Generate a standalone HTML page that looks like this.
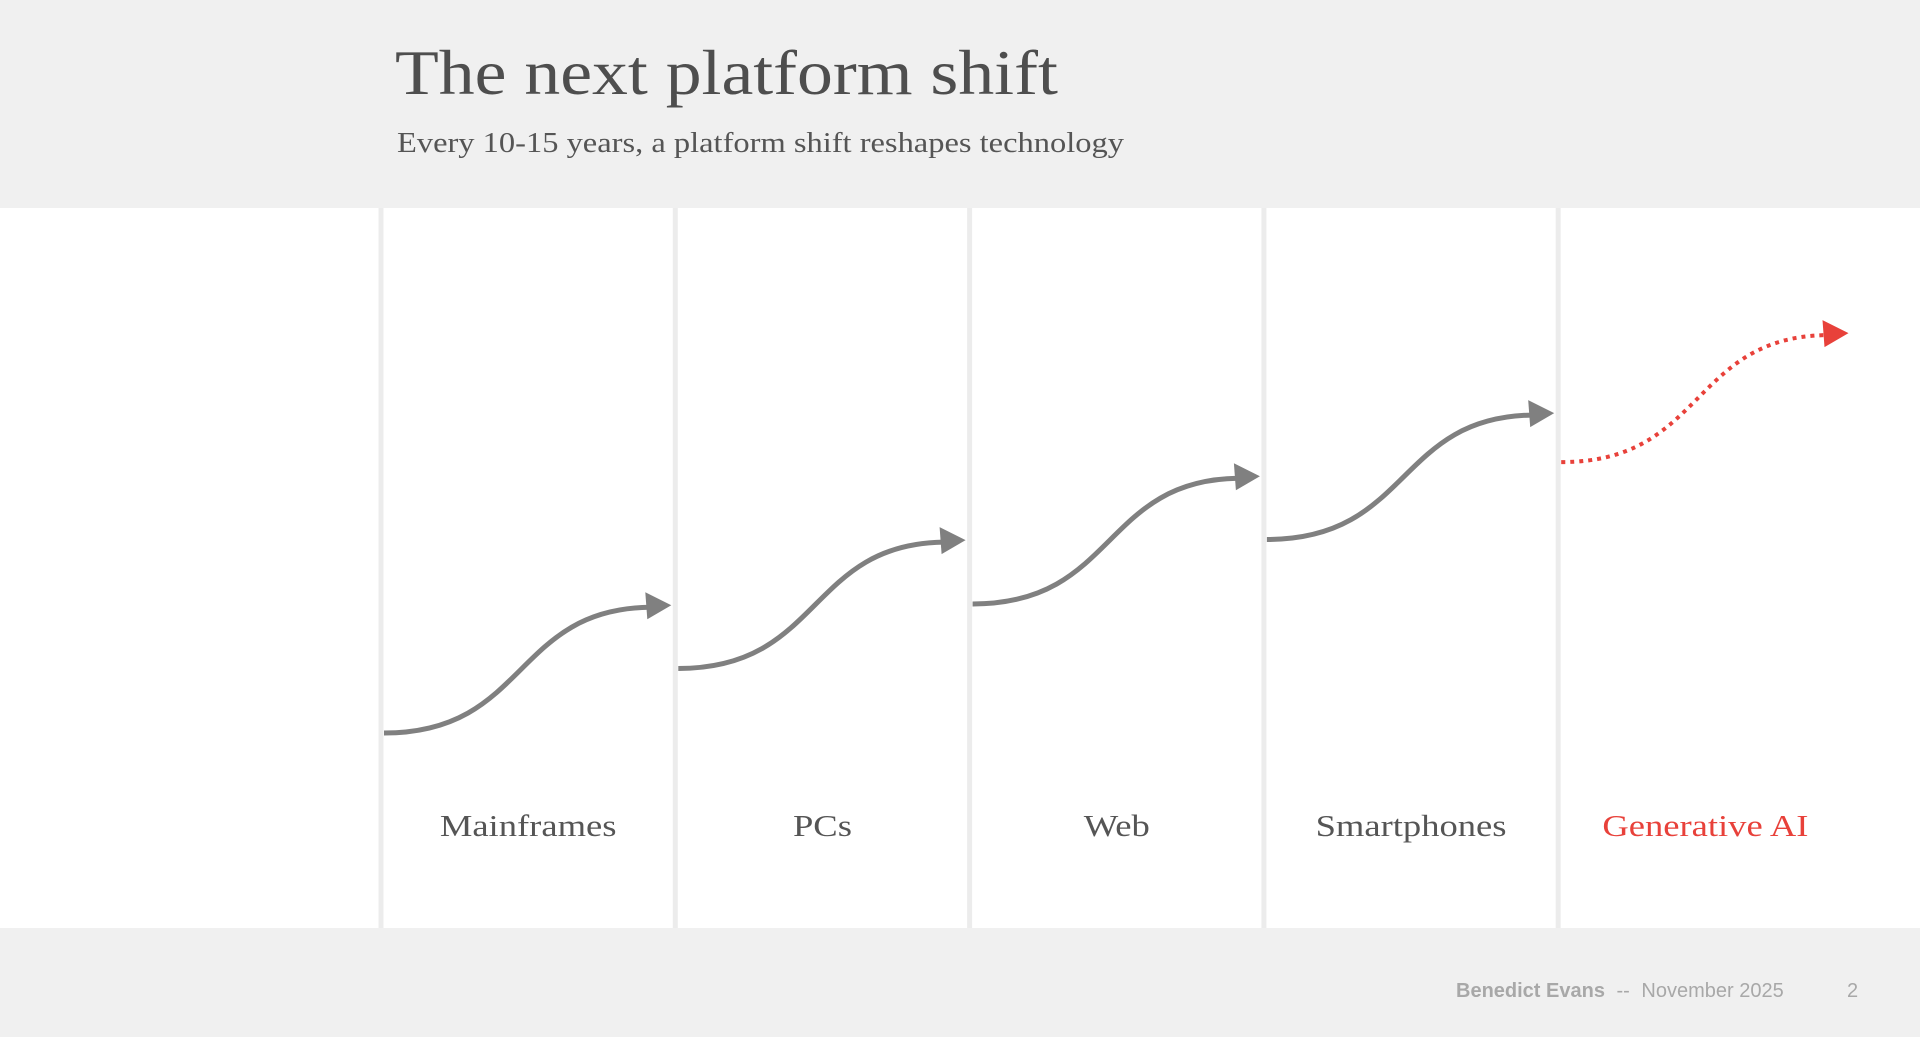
<!DOCTYPE html>
<html><head><meta charset="utf-8"><style>
html,body{margin:0;padding:0;width:1920px;height:1037px;background:#f0f0f0;overflow:hidden;font-family:"Liberation Serif",serif}
#title{position:absolute;left:395px;top:36px;font-size:64px;color:#4e4e4e;white-space:nowrap;transform:scaleX(1.12);transform-origin:left top}
#sub{position:absolute;left:397px;top:128px;font-size:28px;color:#555;white-space:nowrap;transform:scaleX(1.16);transform-origin:left top}
.footer{position:absolute;top:980px;font-family:"Liberation Sans",sans-serif;font-size:20px;color:#a8a8a8;white-space:nowrap}
svg{position:absolute;left:0;top:0}
</style></head><body>
<div id="title">The next platform shift</div>
<div id="sub">Every 10-15 years, a platform shift reshapes technology</div>
<svg id="chart" width="1920" height="1037"></svg>
<div class="footer" style="left:1456px"><b>Benedict Evans</b> <span style="margin-left:6px">--</span> <span style="margin-left:6px">November 2025</span></div>
<div class="footer" style="left:1847px">2</div>
<script>
const categories=["Mainframes","PCs","Web","Smartphones","Generative AI"];
const startValues=[0,1,2,3,4.2];
const endValues=[1.98,2.99,3.98,4.96,6.2];
const highlight=[false,false,false,false,true];
const NS="http://www.w3.org/2000/svg";
const svg=document.getElementById('chart');
const colLeft=381,colW=294.3,bandTop=208,bandBot=928;
const xCol=i=>colLeft+i*colW;
const yScale=v=>733-v*64.5;
function mk(t,a,parent){const e=document.createElementNS(NS,t);for(const k in a)e.setAttribute(k,a[k]);(parent||svg).appendChild(e);return e;}
const band=mk('rect',{x:0,y:bandTop,width:1920,height:bandBot-bandTop,fill:'#ffffff'});


categories.forEach((c,i)=>{
  const sep=mk('rect',{x:xCol(i)-2.5,y:bandTop,width:5,height:bandBot-bandTop,fill:'#ececec'});
  
  
  const col=highlight[i]?'#e8413a':'#808080';
  const x0=xCol(i)+3,x1=xCol(i+1)-4,y0=yScale(startValues[i]),y1=yScale(endValues[i]);
  const w=x1-x0,ah=26,ab=x1-ah;
  const d=`M${x0},${y0} C${x0+0.5*w},${y0} ${x0+0.45*w},${y1+4} ${ab+4},${y1+2}`;
  const p=mk('path',{d:d,fill:'none',stroke:col,'stroke-width':highlight[i]?4:5,'stroke-dasharray':highlight[i]?'4 5':'none'});
  
  
  const a=mk('polygon',{points:`${x1},${y1} ${ab},${y1-13} ${ab+2},${y1+14}`,fill:col});
  
  
  const g=mk('g',{transform:`translate(${xCol(i)+colW/2},836) scale(1.18,1)`});
  const t=mk('text',{x:0,y:0,'text-anchor':'middle','font-size':31,fill:highlight[i]?'#e8413a':'#555','font-family':'Liberation Serif, serif'},g);
  t.textContent=c;
  
  
});
</script>
</body></html>
